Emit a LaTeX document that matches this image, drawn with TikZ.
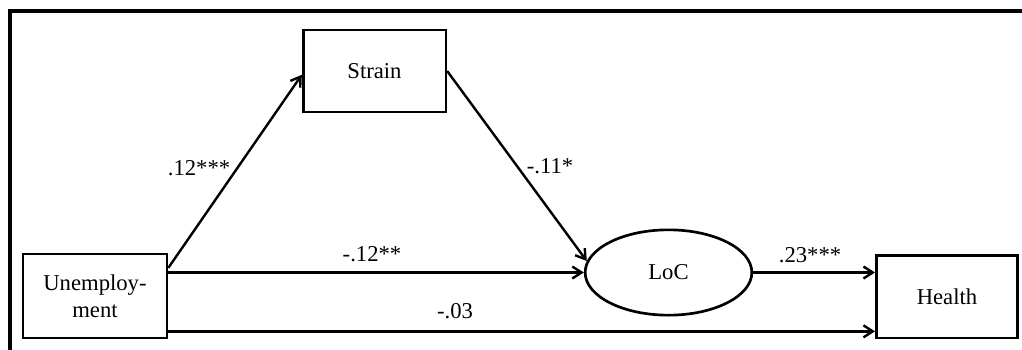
\documentclass[tikz,border=0pt]{standalone}
\usepackage{fontspec}
\setmainfont{Liberation Serif}
\usetikzlibrary{arrows.meta,shapes.geometric,calc}
\tikzset{
  box/.style={draw, line width=2pt, rectangle, align=center,
    font=\fontsize{17}{20}\selectfont},
  oval/.style={draw, line width=2pt, ellipse, inner sep=0pt,
    font=\fontsize{17}{20}\selectfont},
  path/.style={line width=1.8pt, -{Straight Barb[length=7pt,width=9pt,line width=1.8pt]}},
  coef/.style={anchor=base, inner sep=0pt, font=\fontsize{17}{20}\selectfont},
  frame/.style={line width=3pt}
}
\begin{document}
\begin{tikzpicture}[x=0.75pt,y=-0.75pt]
  \useasboundingbox (0,0) rectangle (1022,350);
  % outer frame (top and left edges)
  \draw[frame] (1023,11) -- (10,11) -- (10,351);

  % variables
  \node[box, minimum width=107pt, minimum height=61.5pt] (strain) at (374.5,71) {Strain};
  \node[box, minimum width=108pt, minimum height=63pt] (unemp) at (95,296) {Unemploy-\\ment};
  \node[box, minimum width=106pt, minimum height=62pt] (health) at (947,296.5) {Health};
  \node[oval, minimum width=125pt, minimum height=64pt] (loc) at (668.5,272.5) {LoC};

  % paths
  \draw[path] (unemp.21) -- (strain.183);
  \draw[path] (strain.east) -- (loc.172);
  \draw[path] (unemp.east |- loc.west) -- (loc.west);
  \draw[path] (loc.east) -- (loc.east -| health.west);
  \coordinate (direct) at ($(unemp.south east)+(0,-8)$);
  \draw[path] (direct) -- (direct -| health.west);

  % path coefficients
  \node[coef] (c1) at (199,175) {.12***};
  \node[coef] (c2) at (550,173) {-.11*};
  \node[coef] (c3) at (372,261) {-.12**};
  \node[coef] (c4) at (810,262) {.23***};
  \node[coef] (c5) at (455,318) {-.03};
\end{tikzpicture}
\end{document}
